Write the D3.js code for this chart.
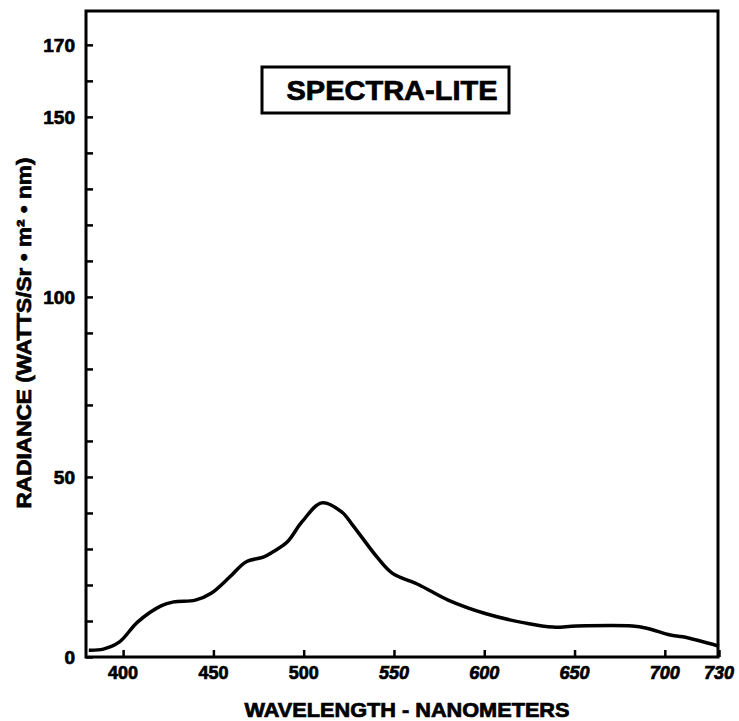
<!DOCTYPE html>
<html><head><meta charset="utf-8">
<script src="https://cdn.jsdelivr.net/npm/d3@7"></script>
<style>body{margin:0;background:#fff}</style>
</head><body>
<script>
const wavelengths = [381,389,398,408,421,428,440,449,459,468,478,483,491,499,510,521,527,541,549,564,580,601,623,638,651,682,690,703,710,730];
const radiance    = [1.9,2.2,4.2,9.7,14.2,15.3,15.8,17.8,22.2,26.4,27.8,29.2,32,37.5,42.8,40.3,36.7,27.5,23.3,20,15.8,12,9.4,8.3,8.6,8.6,8,6.1,5.6,3];
const xTickValues = [400,450,500,550,600,650,700,730];
const yLabelValues = [0,50,100,150,170];
const yMinorValues = d3.range(0,171,10);
const title = "SPECTRA-LITE";
const xTitle = "WAVELENGTH - NANOMETERS";
const yTitle = "RADIANCE (WATTS/Sr • m² • nm)";

const W=739,H=721;
const L=86,R=718,T=11,B=657;
const svg=d3.select("body").append("svg").attr("width",W).attr("height",H)
  .style("font-family","'Liberation Sans', Arial, sans-serif").style("font-weight","bold");
const x=d3.scaleLinear().domain([380,730]).range([L+1,R+1]);
const y=d3.scaleLinear().domain([0,179.4]).range([B,T]);
const heavy = s => s.attr("stroke","#000").attr("stroke-width",0.7).attr("fill","#000");

// frame
svg.append("rect").attr("x",L).attr("y",T).attr("width",R-L).attr("height",B-T)
  .attr("fill","none").attr("stroke","#000").attr("stroke-width",3);

// y axis (inward ticks)
const yAx=svg.append("g").attr("transform",`translate(${L},0)`)
  .call(d3.axisRight(y).tickValues(yMinorValues).tickSize(7).tickFormat(""));
yAx.select(".domain").remove();
yAx.selectAll("line").attr("stroke","#000").attr("stroke-width",2.5);
svg.append("g").selectAll("text").data(yLabelValues).join("text")
  .attr("x",L-11).attr("y",d=>y(d)).attr("dy","0.36em").attr("text-anchor","end")
  .attr("font-size",19).text(d=>d).call(heavy);

// x axis (inward ticks)
const xAx=svg.append("g").attr("transform",`translate(0,${B})`)
  .call(d3.axisTop(x).tickValues(xTickValues).tickSize(7).tickFormat(""));
xAx.select(".domain").remove();
xAx.selectAll("line").attr("stroke","#000").attr("stroke-width",2.5);
svg.append("g").selectAll("text").data(xTickValues).join("text")
  .attr("x",d=>x(d)).attr("y",B+22).attr("text-anchor","middle")
  .attr("font-size",18).attr("font-style",d=>d>=550?"italic":"normal").text(d=>d).call(heavy);

// axis titles
svg.append("text").attr("x",407).attr("y",717).attr("text-anchor","middle")
  .attr("font-size",20).attr("textLength",325).attr("lengthAdjust","spacingAndGlyphs")
  .text(xTitle).call(heavy);
svg.append("text").attr("transform","translate(31,333) rotate(-90)").attr("text-anchor","middle")
  .attr("font-size",20).attr("textLength",351).attr("lengthAdjust","spacingAndGlyphs")
  .text(yTitle).call(heavy);

// title box
svg.append("rect").attr("x",262).attr("y",67).attr("width",247).attr("height",46)
  .attr("fill","none").attr("stroke","#000").attr("stroke-width",3);
svg.append("text").attr("x",392).attr("y",100).attr("text-anchor","middle")
  .attr("font-size",27).attr("textLength",211).attr("lengthAdjust","spacingAndGlyphs")
  .text(title).call(heavy);

// curve
const data=wavelengths.map((w,i)=>[w,radiance[i]]);
svg.append("path").datum(data)
  .attr("d",d3.line().x(d=>x(d[0])).y(d=>y(d[1])).curve(d3.curveCatmullRom.alpha(0.5)))
  .attr("fill","none").attr("stroke","#000").attr("stroke-width",3.5).attr("stroke-linejoin","round");
</script>
</body></html>
